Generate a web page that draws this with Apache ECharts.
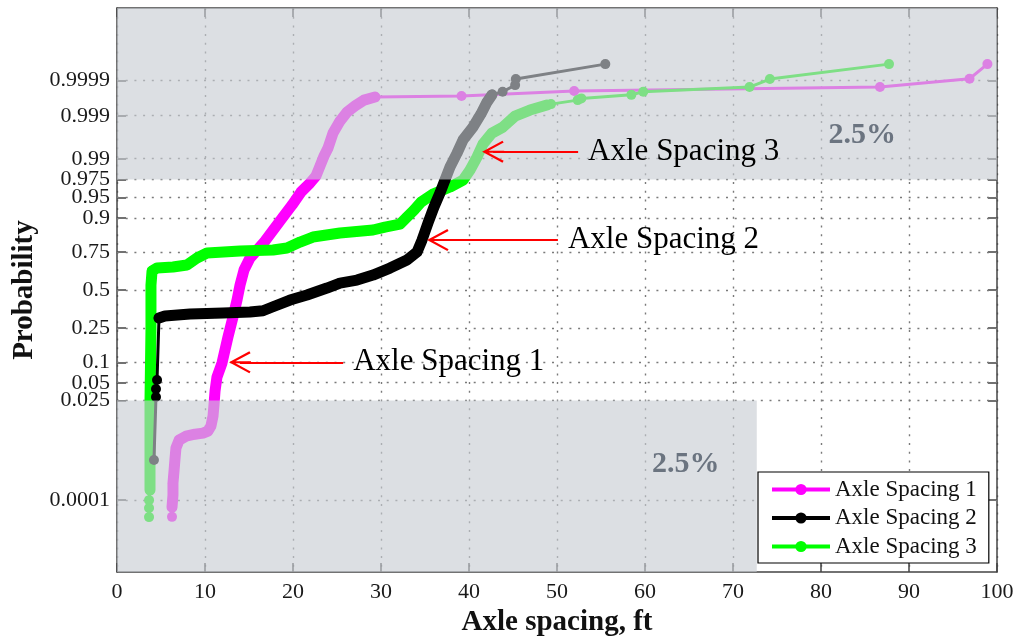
<!DOCTYPE html>
<html><head><meta charset="utf-8">
<script src="https://cdn.jsdelivr.net/npm/echarts@6/dist/echarts.min.js"></script>
<style>html,body{margin:0;padding:0;background:#fff}#c{width:1019px;height:642px}</style>
</head><body><div id="c"></div><script>
// ---------------- data ----------------
const seriesNames = ['Axle Spacing 1', 'Axle Spacing 2', 'Axle Spacing 3'];

// probability-axis tick labels
const probTicks = [0.0001, 0.025, 0.05, 0.1, 0.25, 0.5, 0.75, 0.9, 0.95, 0.975, 0.99, 0.999, 0.9999];
const probTickLabels = ['0.0001', '0.025', '0.05', '0.1', '0.25', '0.5', '0.75', '0.9', '0.95', '0.975', '0.99', '0.999', '0.9999'];

// Axle Spacing 1 (ft, cumulative probability)
const axle1X = [6.25, 6.25, 6.36, 6.36, 6.48, 6.59, 6.70, 7.05, 7.84, 8.86, 9.77, 10.34, 10.68, 10.91, 11.02, 11.14,
  11.36, 11.93, 12.61, 13.18, 13.64, 13.98, 14.43, 15.11, 16.02, 16.82, 17.84, 18.86, 19.89, 20.91, 21.93, 22.61,
  23.07, 23.52, 23.98, 24.55, 25.34, 26.14, 27.05, 28.07, 29.32, 39.15, 51.95, 86.70, 96.88, 98.91];
const axle1P = [0.000029, 0.000059, 0.000139, 0.00031, 0.000666, 0.00137, 0.00255, 0.0039, 0.0048, 0.0053, 0.0056, 0.0062,
  0.0080, 0.0127, 0.0207, 0.0366, 0.0614, 0.0978, 0.2024, 0.316, 0.4297, 0.5353, 0.6386, 0.7148, 0.7664, 0.8075,
  0.8603, 0.9022, 0.9341, 0.9589, 0.9711, 0.9784, 0.9861, 0.9912, 0.9941, 0.9973, 0.99863, 0.99920, 0.99945,
  0.99962, 0.99969, 0.99971, 0.99979, 0.99984, 0.99991, 0.999969];

// Axle Spacing 2
const axle2X = [4.20, 4.43, 4.43, 4.55, 4.77, 5.45, 8.30, 12.05, 15.11, 16.59, 17.73, 19.66, 21.59, 23.86, 25.34, 27.27,
  29.09, 31.02, 32.95, 34.09, 34.66, 35.34, 36.02, 36.70, 37.27, 37.84, 38.64, 39.32, 40.45, 41.36, 42.05, 42.61,
  43.82, 45.24, 45.32, 55.49];
const axle2P = [0.00129, 0.0289, 0.0396, 0.0553, 0.3098, 0.3224, 0.3352, 0.3417, 0.3483, 0.3568, 0.3836, 0.4297, 0.4647,
  0.5141, 0.5494, 0.5703, 0.6049, 0.6517, 0.7026, 0.7498, 0.8123, 0.8826, 0.9295, 0.9573, 0.9744, 0.9854, 0.9924,
  0.9961, 0.99807, 0.99910, 0.99957, 0.99973, 0.99978, 0.99986, 0.999908, 0.999969];

// Axle Spacing 3
const axle3X = [3.64, 3.64, 3.64, 3.75, 3.75, 3.86, 3.86, 3.98, 4.55, 6.36, 7.95, 9.09, 10.23, 13.98, 17.73, 19.32,
  20.80, 22.27, 25.34, 29.09, 30.45, 32.16, 32.95, 33.75, 34.55, 35.91, 37.84, 39.32, 40.11, 40.91, 41.59, 42.61,
  43.86, 45.23, 46.93, 48.86, 49.32, 52.35, 52.76, 58.45, 59.80, 71.88, 74.19, 87.73];
const axle3P = [0.0000285, 0.0000555, 0.000098, 0.000196, 0.0256, 0.2391, 0.5353, 0.6319, 0.6517, 0.6583, 0.6712,
  0.7148, 0.7441, 0.7554, 0.7609, 0.7718, 0.8026, 0.8264, 0.8439, 0.8563, 0.8680, 0.8790, 0.9022, 0.9220, 0.9406,
  0.9556, 0.9661, 0.9744, 0.9833, 0.9908, 0.9952, 0.9973, 0.99807, 0.99898, 0.99929, 0.99948, 0.99951, 0.99962,
  0.99966, 0.99973, 0.99978, 0.99984, 0.999908, 0.999969];

// shaded 2.5% tails and annotations
const tailUpperP = 0.975;
const tailLowerP = 0.025;
const tailLowerXMax = 72.7;
const tailLabel = '2.5%';
const annotText = ['Axle Spacing 1', 'Axle Spacing 2', 'Axle Spacing 3'];
const annotP = [0.1, 0.8123, 0.9929];
const annotFromX = [25.7, 50.1, 52.4];
const annotToX = [13.98, 36.48, 42.74];

// ---------------- helpers ----------------
function probit(p) {
  const a = [-3.969683028665376e+01, 2.209460984245205e+02, -2.759285104469687e+02, 1.383577518672690e+02, -3.066479806614716e+01, 2.506628277459239e+00];
  const b = [-5.447609879822406e+01, 1.615858368580409e+02, -1.556989798598866e+02, 6.680131188771972e+01, -1.328068155288572e+01];
  const c = [-7.784894002430293e-03, -3.223964580411365e-01, -2.400758277161838e+00, -2.549732539343734e+00, 4.374664141464968e+00, 2.938163982698783e+00];
  const d = [7.784695709041462e-03, 3.224671290700398e-01, 2.445134137142996e+00, 3.754408661907416e+00];
  const pl = 0.02425, ph = 1 - pl;
  let q, r;
  if (p < pl) {
    q = Math.sqrt(-2 * Math.log(p));
    return (((((c[0] * q + c[1]) * q + c[2]) * q + c[3]) * q + c[4]) * q + c[5]) / ((((d[0] * q + d[1]) * q + d[2]) * q + d[3]) * q + 1);
  }
  if (p <= ph) {
    q = p - 0.5; r = q * q;
    return (((((a[0] * r + a[1]) * r + a[2]) * r + a[3]) * r + a[4]) * r + a[5]) * q / (((((b[0] * r + b[1]) * r + b[2]) * r + b[3]) * r + b[4]) * r + 1);
  }
  q = Math.sqrt(-2 * Math.log(1 - p));
  return -(((((c[0] * q + c[1]) * q + c[2]) * q + c[3]) * q + c[4]) * q + c[5]) / ((((d[0] * q + d[1]) * q + d[2]) * q + d[3]) * q + 1);
}
const Z_MIN = -5, Z_MAX = 5;
const tickZ = probTicks.map(probit);
function tickLabel(v) {
  let best = 0, bd = Infinity;
  tickZ.forEach((z, i) => { const dd = Math.abs(z - v); if (dd < bd) { bd = dd; best = i; } });
  return probTickLabels[best];
}
function pts(xs, ps, from, to) {
  const out = [];
  for (let i = from; i <= to; i++) out.push([xs[i], probit(ps[i])]);
  return out;
}

const SERIF = '"Liberation Serif","Times New Roman",serif';
const GRID_LINE = { color: '#7a7a7a', type: [2, 6.7], width: 1.4 };
const AXIS_COLOR = '#444';
const OVERLAY = 'rgba(199,204,211,0.63)';

const curves = [
  { name: seriesNames[0], xs: axle1X, ps: axle1P, color: '#ff00ff', dense: [1, 40], z: 2 },
  { name: seriesNames[2], xs: axle3X, ps: axle3P, color: '#00ff00', dense: [3, 35], z: 3 },
  { name: seriesNames[1], xs: axle2X, ps: axle2P, color: '#000000', dense: [4, 31], z: 4 }
];

const series = [];
// horizontal dotted grid at the probability ticks
series.push({
  type: 'line', data: [], z: 1, silent: true,
  markLine: {
    silent: true, symbol: 'none', animation: false, label: { show: false }, z: 1,
    lineStyle: GRID_LINE,
    data: tickZ.map(z => ({ yAxis: z }))
  }
});
curves.forEach(c => {
  series.push({
    type: 'line', name: c.name, z: c.z,
    data: pts(c.xs, c.ps, 0, c.xs.length - 1),
    symbol: 'circle', symbolSize: 10, showAllSymbol: true,
    lineStyle: { color: c.color, width: 3 },
    itemStyle: { color: c.color },
    emphasis: { disabled: true }
  });
  series.push({
    type: 'line', name: c.name, z: c.z,
    data: pts(c.xs, c.ps, c.dense[0], c.dense[1]),
    showSymbol: false,
    lineStyle: { color: c.color, width: 11, cap: 'round', join: 'round' },
    itemStyle: { color: c.color },
    emphasis: { disabled: true }
  });
});
// translucent overlay for the 2.5% tails (drawn above the curves)
const tailRects = [
  [0, probit(tailUpperP), 100, Z_MAX],
  [0, Z_MIN, tailLowerXMax, probit(tailLowerP)]
];
const tailLabelPos = [[0.847, 0.744], [0.889, 0.372]];
series.push({
  type: 'custom', z: 5, silent: true, clip: false,
  encode: { x: [0, 2], y: [1, 3] },
  data: tailRects,
  renderItem: (params, api) => {
    const p0 = api.coord([api.value(0), api.value(1)]);
    const p1 = api.coord([api.value(2), api.value(3)]);
    const x = Math.min(p0[0], p1[0]), y = Math.min(p0[1], p1[1]);
    const w = Math.abs(p1[0] - p0[0]), h = Math.abs(p1[1] - p0[1]);
    const lp = tailLabelPos[params.dataIndex];
    return {
      type: 'group', children: [
        { type: 'rect', shape: { x, y, width: w, height: h }, style: { fill: OVERLAY } },
        {
          type: 'text', x: x + w * lp[0], y: y + h * lp[1],
          style: { text: tailLabel, fontFamily: SERIF, fontWeight: 'bold', fontSize: 30, fill: '#6b7480', align: 'center', verticalAlign: 'middle' }
        }
      ]
    };
  }
});
// red arrows with labels (above the overlay)
const ARROW = 'path://M10,0 L20,18.5 L18.3,19.6 L10,4.2 L1.7,19.6 L0,18.5 Z M9.1,2 L10.9,2 L10.9,20 L9.1,20 Z';
series.push({
  type: 'line', data: [], z: 8, silent: true,
  markLine: {
    silent: true, animation: false, z: 8,
    symbol: ['none', ARROW], symbolSize: [22, 22],
    lineStyle: { color: '#ff0000', width: 2, type: 'solid' },
    label: { show: true, position: 'start', formatter: '{b}', distance: 10, color: '#000', fontFamily: SERIF, fontSize: 31 },
    data: annotText.map((t, i) => [
      { name: t, coord: [annotFromX[i], probit(annotP[i])] },
      { coord: [annotToX[i], probit(annotP[i])] }
    ])
  }
});

const axisLine = { show: true, onZero: false, lineStyle: { color: AXIS_COLOR, width: 1.5 } };
const axisTick = { show: true, inside: true, length: 9, lineStyle: { color: AXIS_COLOR, width: 1.5 } };

const option = {
  animation: false,
  backgroundColor: '#fff',
  grid: { left: 117, right: 22, top: 8, bottom: 69 },
  legend: {
    data: seriesNames, orient: 'vertical', left: 758, top: 472,
    itemWidth: 58, itemHeight: 14, itemGap: 5.5, padding: [6, 12, 5, 12],
    backgroundColor: '#fff', borderColor: '#000', borderWidth: 1.2, borderRadius: 0,
    textStyle: { fontFamily: SERIF, fontSize: 23, color: '#111' },
    lineStyle: { width: 4 },
    selectedMode: false, z: 10
  },
  xAxis: [
    {
      type: 'value', min: 0, max: 100, interval: 10, position: 'bottom',
      axisLine, axisTick,
      axisLabel: { fontFamily: SERIF, fontSize: 22, color: '#1a1a1a', margin: 9 },
      splitLine: { show: true, lineStyle: GRID_LINE },
      name: 'Axle spacing, ft', nameLocation: 'middle', nameGap: 33,
      nameTextStyle: { fontFamily: SERIF, fontWeight: 'bold', fontSize: 29, color: '#111' }
    },
    {
      type: 'value', min: 0, max: 100, interval: 10, position: 'top',
      axisLine, axisTick, axisLabel: { show: false }, splitLine: { show: false }
    }
  ],
  yAxis: [
    {
      type: 'value', min: Z_MIN, max: Z_MAX, position: 'left',
      axisLine,
      axisTick: Object.assign({}, axisTick, { customValues: tickZ }),
      axisLabel: { customValues: tickZ, formatter: v => tickLabel(v), fontFamily: SERIF, fontSize: 22, color: '#1a1a1a', margin: 7 },
      splitLine: { show: false },
      name: 'Probability', nameLocation: 'middle', nameGap: 76, nameRotate: 90,
      nameTextStyle: { fontFamily: SERIF, fontWeight: 'bold', fontSize: 29, color: '#111' }
    },
    {
      type: 'value', min: Z_MIN, max: Z_MAX, position: 'right',
      axisLine,
      axisTick: Object.assign({}, axisTick, { customValues: tickZ }),
      axisLabel: { show: false }, splitLine: { show: false }
    }
  ],
  series
};
const chart = echarts.init(document.getElementById('c'), null, { renderer: 'canvas' });
chart.setOption(option);
</script></body></html>
